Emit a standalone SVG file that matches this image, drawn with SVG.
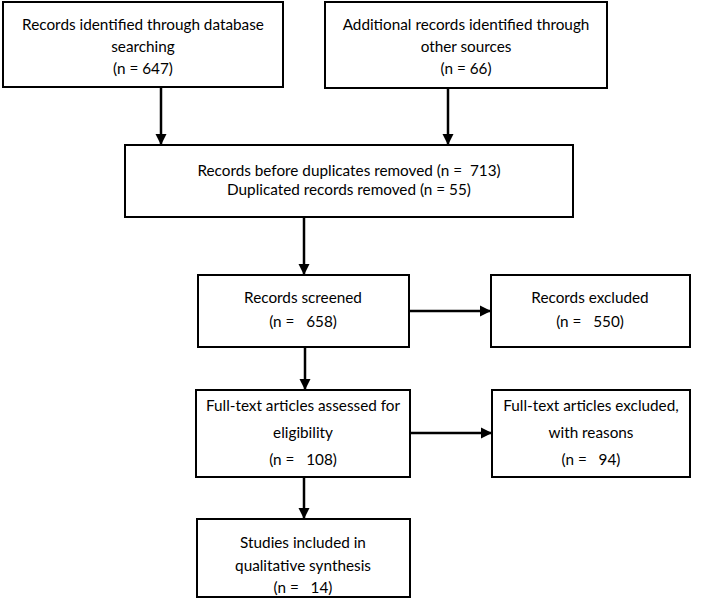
<svg xmlns="http://www.w3.org/2000/svg" width="708" height="608" viewBox="0 0 708 608">
<style>
.box{fill:#fff;stroke:#000;stroke-width:2}
.t{font-family:Lato,"Liberation Sans",sans-serif;font-size:15.3px;fill:#000;text-anchor:middle}
.c{stroke:#000;stroke-width:2.5;fill:none}
</style>
<defs>
<marker id="ah" viewBox="0 0 10 10" refX="10" refY="5" markerWidth="4.5" markerHeight="4.5" orient="auto" markerUnits="strokeWidth">
<path d="M0,0 L10,5 L0,10 z" fill="#000"/>
</marker>
</defs>
<rect width="708" height="608" fill="#fff"/>
<g id="connectors">
<line class="c" x1="161" y1="87" x2="161" y2="145" marker-end="url(#ah)"/>
<line class="c" x1="448" y1="88" x2="448" y2="145" marker-end="url(#ah)"/>
<line class="c" x1="304" y1="217" x2="304" y2="275" marker-end="url(#ah)"/>
<line class="c" x1="409" y1="311" x2="491" y2="311" marker-end="url(#ah)"/>
<line class="c" x1="305" y1="347" x2="305" y2="390" marker-end="url(#ah)"/>
<line class="c" x1="410" y1="433" x2="492" y2="433" marker-end="url(#ah)"/>
<line class="c" x1="304" y1="477" x2="304" y2="519" marker-end="url(#ah)"/>
</g>
<g id="n1">
<rect class="box" x="3" y="2" width="280" height="85"/>
<text class="t" x="143" y="30">Records identified through database</text>
<text class="t" x="143" y="52">searching</text>
<text class="t" x="143" y="74">(n = 647)</text>
</g>
<g id="n2">
<rect class="box" x="325" y="2" width="282" height="86"/>
<text class="t" x="466" y="30">Additional records identified through</text>
<text class="t" x="466" y="52">other sources</text>
<text class="t" x="466" y="74">(n = 66)</text>
</g>
<g id="n3">
<rect class="box" x="125" y="145" width="448" height="72"/>
<text class="t" x="349" y="176" xml:space="preserve">Records before duplicates removed (n =  713)</text>
<text class="t" x="349" y="195">Duplicated records removed (n = 55)</text>
</g>
<g id="n4">
<rect class="box" x="198" y="275" width="211" height="72"/>
<text class="t" x="303" y="303">Records screened</text>
<text class="t" x="303" y="327" xml:space="preserve">(n =   658)</text>
</g>
<g id="n5">
<rect class="box" x="491" y="275" width="199" height="72"/>
<text class="t" x="590" y="303">Records excluded</text>
<text class="t" x="590" y="327" xml:space="preserve">(n =   550)</text>
</g>
<g id="n6">
<rect class="box" x="196" y="390" width="214" height="87"/>
<text class="t" x="303" y="411">Full-text articles assessed for</text>
<text class="t" x="303" y="438">eligibility</text>
<text class="t" x="303" y="465" xml:space="preserve">(n =   108)</text>
</g>
<g id="n7">
<rect class="box" x="492" y="390" width="198" height="87"/>
<text class="t" x="591" y="411">Full-text articles excluded,</text>
<text class="t" x="591" y="438">with reasons</text>
<text class="t" x="591" y="465" xml:space="preserve">(n =   94)</text>
</g>
<g id="n8">
<rect class="box" x="197" y="519" width="213" height="78"/>
<text class="t" x="303" y="548">Studies included in</text>
<text class="t" x="303" y="571">qualitative synthesis</text>
<text class="t" x="303" y="593" xml:space="preserve">(n =   14)</text>
</g>
</svg>
